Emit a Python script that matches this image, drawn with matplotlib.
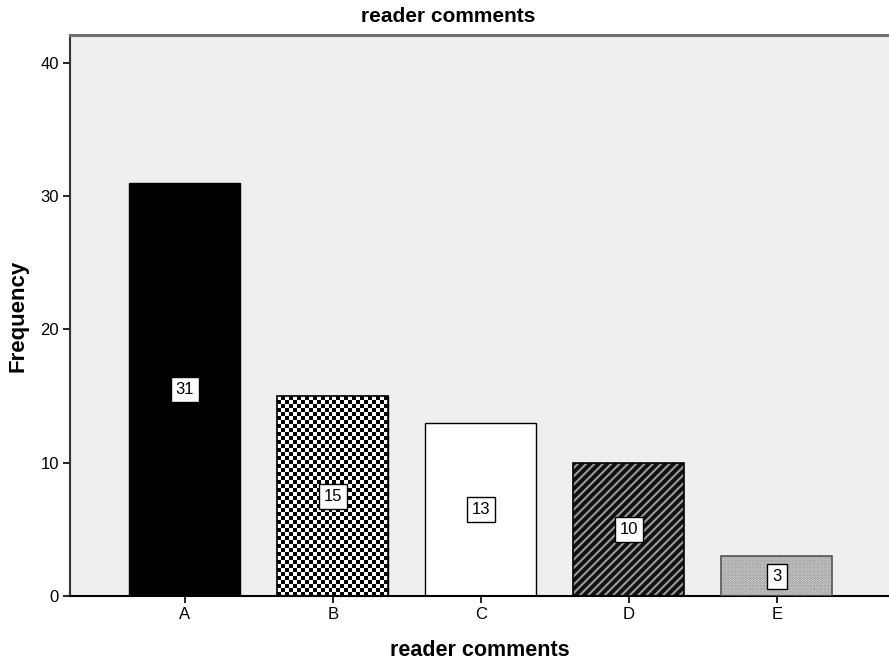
import numpy as np
import matplotlib
matplotlib.use("Agg")
import matplotlib.pyplot as plt

categories = ["A", "B", "C", "D", "E"]
frequency = [31, 15, 13, 10, 3]
y_ticks = [0, 10, 20, 30, 40]

plt.rcParams["font.family"] = ["Liberation Sans", "DejaVu Sans"]
plt.rcParams["hatch.linewidth"] = 1.5

fig = plt.figure(figsize=(8.89, 6.61), dpi=100)
ax = fig.add_axes([70 / 889, 65 / 661, 1 - 70 / 889, (596 - 35) / 661])
ax.set_facecolor("#efefef")

x = np.arange(len(categories))
width = 0.75

# A: solid black
ax.bar(x[0], frequency[0], width, color="black", edgecolor="black", linewidth=1, zorder=2)

# B: checkerboard fill clipped to the bar
bar_b = ax.bar(x[1], frequency[1], width, color="white", edgecolor="black", linewidth=1, zorder=2)[0]
nx, ny = 28, 50
checker = (np.add.outer(np.arange(ny), np.arange(nx)) % 2).astype(float)
img = ax.imshow(checker, cmap="gray", interpolation="nearest", aspect="auto",
                extent=(x[1] - width / 2, x[1] + width / 2, 0, frequency[1]),
                zorder=2.5, origin="lower")
img.set_clip_path(bar_b)
ax.bar(x[1], frequency[1], width, fill=False, edgecolor="black", linewidth=1.2, zorder=3)

# C: plain white
ax.bar(x[2], frequency[2], width, color="white", edgecolor="black", linewidth=1, zorder=2)

# D: dark with light diagonal stripes
ax.bar(x[3], frequency[3], width, color="#111111", edgecolor="#9a9a9a", hatch="////", linewidth=0, zorder=2)
ax.bar(x[3], frequency[3], width, fill=False, edgecolor="black", linewidth=1.2, zorder=3)

# E: light dotted
ax.bar(x[4], frequency[4], width, color="#e4e4e4", edgecolor="#8a8a8a", hatch="......", linewidth=0, zorder=2)
ax.bar(x[4], frequency[4], width, fill=False, edgecolor="#555555", linewidth=1.2, zorder=3)

for xi, v in zip(x, frequency):
    ax.text(xi, v / 2, str(v), ha="center", va="center", fontsize=12, zorder=5,
            bbox=dict(boxstyle="square,pad=0.3", facecolor="white", edgecolor="black", linewidth=1))

ax.set_xlim(-0.777, 4.757)
ax.set_ylim(0, 42.1)
ax.set_xticks(x)
ax.set_xticklabels(categories, fontsize=12)
ax.set_yticks(y_ticks)
ax.set_yticklabels([str(t) for t in y_ticks], fontsize=12)
ax.tick_params(axis="both", direction="out", length=5, width=1.2, colors="black", pad=3)

ax.spines["right"].set_visible(False)
ax.spines["top"].set_color("#6e6e6e")
ax.spines["top"].set_linewidth(2.2)
ax.spines["left"].set_color("#333333")
ax.spines["left"].set_linewidth(1.5)
ax.spines["bottom"].set_color("black")
ax.spines["bottom"].set_linewidth(1.5)

fig.text(448 / 889, 1 - 16 / 661, "reader comments", ha="center", va="center",
         fontsize=15, fontweight="bold")
ax.set_xlabel("reader comments", fontsize=15.5, fontweight="bold")
ax.xaxis.set_label_coords(0.5, -54 / 561)
ax.xaxis.label.set_va("center")
ax.set_ylabel("Frequency", fontsize=16, fontweight="bold")
ax.yaxis.set_label_coords(-52 / 819, 0.5)
ax.yaxis.label.set_va("center")

fig.savefig("out.png", dpi=100)
